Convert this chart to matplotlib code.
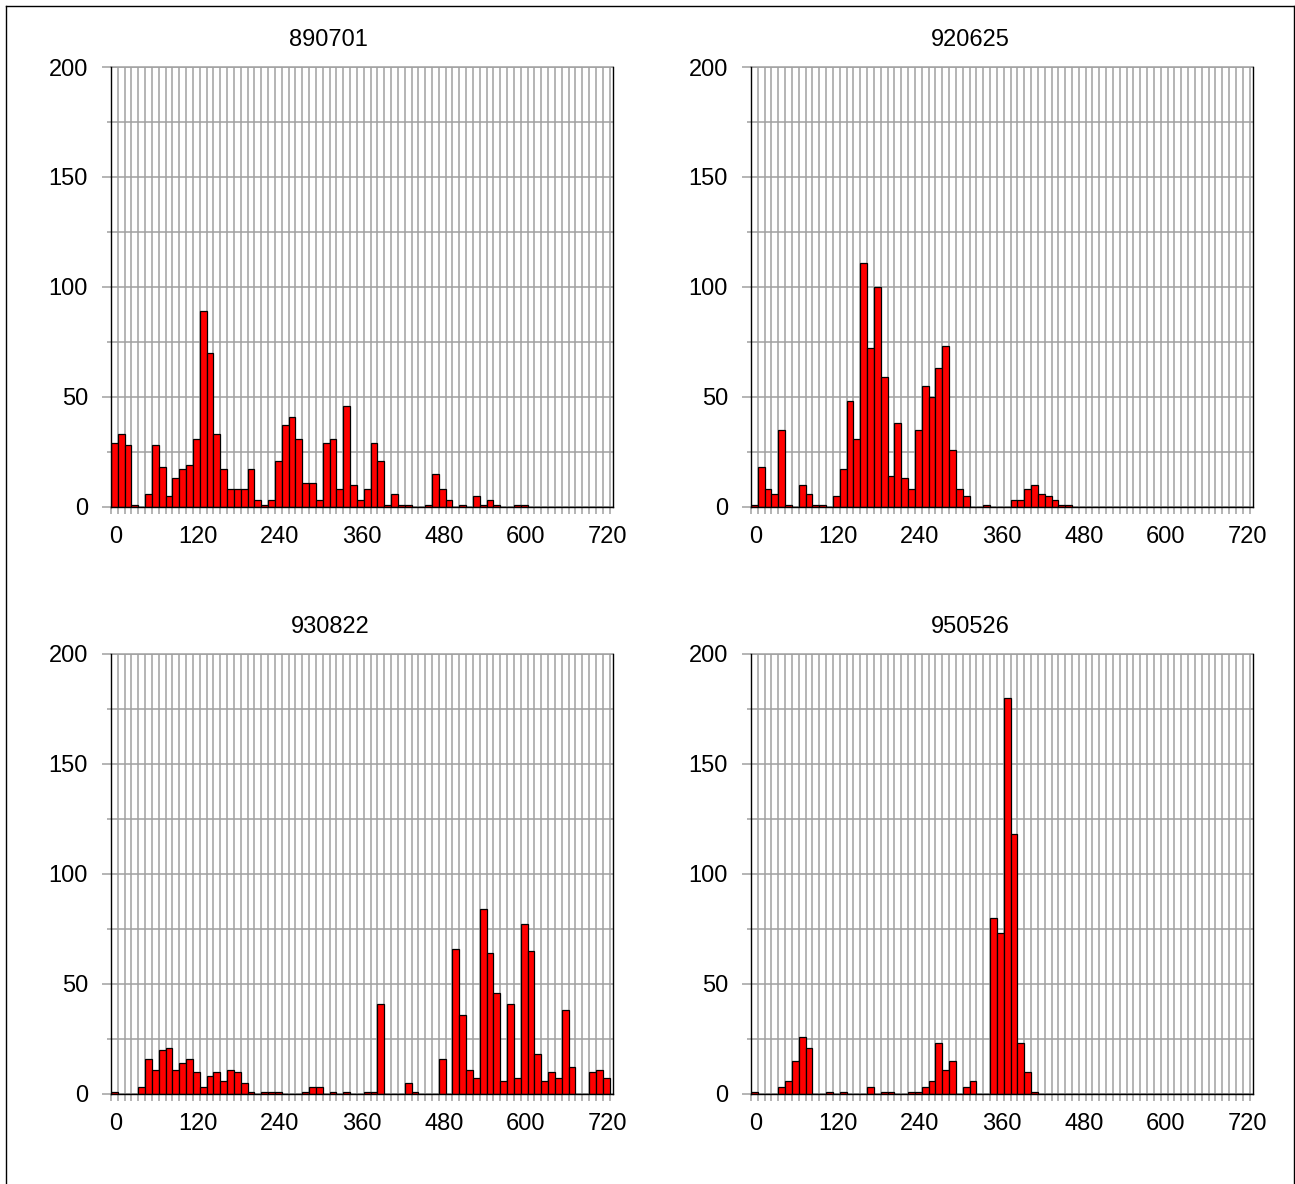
import matplotlib
matplotlib.use('Agg')
import matplotlib.pyplot as plt
from matplotlib.ticker import MultipleLocator, FixedLocator
import matplotlib.transforms as mtransforms
from matplotlib.lines import Line2D

plt.rcParams['font.family'] = ['Liberation Sans', 'DejaVu Sans']

# ---- data ----
titles = ["890701", "920625", "930822", "950526"]
bin_width = 10
bin_starts = list(range(0, 730, bin_width))  # 73 bins: 0..720

counts_890701 = [29, 33, 28, 1, 0, 6, 28, 18, 5, 13,
                 17, 19, 31, 89, 70, 33, 17, 8, 8, 8,
                 17, 3, 1, 3, 21, 37, 41, 31, 11, 11,
                 3, 29, 31, 8, 46, 10, 3, 8, 29, 21,
                 1, 6, 1, 1, 0, 0, 1, 15, 8, 3,
                 0, 1, 0, 5, 1, 3, 1, 0, 0, 1,
                 1, 0, 0, 0, 0, 0, 0, 0, 0, 0,
                 0, 0, 0]
counts_920625 = [1, 18, 8, 6, 35, 1, 0, 10, 6, 1,
                 1, 0, 5, 17, 48, 31, 111, 72, 100, 59,
                 14, 38, 13, 8, 35, 55, 50, 63, 73, 26,
                 8, 5, 0, 0, 1, 0, 0, 0, 3, 3,
                 8, 10, 6, 5, 3, 1, 1, 0, 0, 0,
                 0, 0, 0, 0, 0, 0, 0, 0, 0, 0,
                 0, 0, 0, 0, 0, 0, 0, 0, 0, 0,
                 0, 0, 0]
counts_930822 = [1, 0, 0, 0, 3, 16, 11, 20, 21, 11,
                 14, 16, 10, 3, 8, 10, 6, 11, 10, 5,
                 1, 0, 1, 1, 1, 0, 0, 0, 1, 3,
                 3, 0, 1, 0, 1, 0, 0, 1, 1, 41,
                 0, 0, 0, 5, 1, 0, 0, 0, 16, 0,
                 66, 36, 11, 7, 84, 64, 46, 6, 41, 7,
                 77, 65, 18, 6, 10, 7, 38, 12, 0, 0,
                 10, 11, 7]
counts_950526 = [1, 0, 0, 0, 3, 6, 15, 26, 21, 0,
                 0, 1, 0, 1, 0, 0, 0, 3, 0, 1,
                 1, 0, 0, 1, 1, 3, 6, 23, 11, 15,
                 0, 3, 6, 0, 0, 80, 73, 180, 118, 23,
                 10, 1, 0, 0, 0, 0, 0, 0, 0, 0,
                 0, 0, 0, 0, 0, 0, 0, 0, 0, 0,
                 0, 0, 0, 0, 0, 0, 0, 0, 0, 0,
                 0, 0, 0]
all_counts = [counts_890701, counts_920625, counts_930822, counts_950526]

x_tick_labels = [0, 120, 240, 360, 480, 600, 720]
y_tick_labels = [0, 50, 100, 150, 200]

# ---- layout (pixels) ----
W, H = 1295, 1184
fig = plt.figure(figsize=(W / 100, H / 100), dpi=100)

lefts = [111, 751, 111, 751]
tops = [67, 67, 654, 654]
ax_w, ax_h = 501.7, 439.7
title_pos = [(328, 40), (970, 40), (330, 627), (970, 627)]

grid_col = '#a0a0a0'
for i in range(4):
    l, t = lefts[i], tops[i]
    ax = fig.add_axes([l / W, 1 - (t + ax_h) / H, ax_w / W, ax_h / H])
    ax.set_xlim(0, 734.6)
    ax.set_ylim(0, 200)
    ax.set_axisbelow(True)
    ax.bar(bin_starts, all_counts[i], width=bin_width, align='edge',
           color='#ff0000', edgecolor='black', linewidth=0.9, zorder=3)

    ax.xaxis.set_major_locator(FixedLocator(x_tick_labels))
    ax.xaxis.set_minor_locator(MultipleLocator(10))
    ax.yaxis.set_major_locator(FixedLocator(y_tick_labels))
    ax.yaxis.set_minor_locator(MultipleLocator(25))
    ax.grid(True, which='both', color=grid_col, linewidth=1.1)
    ax.tick_params(axis='x', which='both', length=5, width=1.1, color=grid_col,
                   pad=9, labelsize=17)
    ax.tick_params(axis='y', which='major', length=6.5, width=1.1, color=grid_col,
                   pad=10, labelsize=17)
    ax.tick_params(axis='y', which='minor', length=3, width=1.1, color=grid_col)
    ax.set_xticklabels([str(v) for v in x_tick_labels])
    offset = mtransforms.ScaledTranslation(5 / 100, 0, fig.dpi_scale_trans)
    for lab in ax.xaxis.get_majorticklabels():
        lab.set_transform(lab.get_transform() + offset)

    for s in ['left', 'bottom', 'right']:
        ax.spines[s].set_color('black')
        ax.spines[s].set_linewidth(1.0)
        ax.spines[s].set_zorder(4)
    ax.spines['top'].set_color(grid_col)
    ax.spines['top'].set_linewidth(1.1)

    tx, ty = title_pos[i]
    fig.text(tx / W, 1 - ty / H, titles[i], ha='center', va='center', fontsize=17)

# figure border
bx0, by0, bx1 = 5.5 / W, 1 - 5.5 / H, 1293.5 / W
fig.add_artist(Line2D([bx0, bx0], [0, by0], color='black', linewidth=1.0, transform=fig.transFigure))
fig.add_artist(Line2D([bx0, bx1], [by0, by0], color='black', linewidth=1.0, transform=fig.transFigure))
fig.add_artist(Line2D([bx1, bx1], [0, by0], color='black', linewidth=1.0, transform=fig.transFigure))

fig.savefig('out.png', dpi=100)
